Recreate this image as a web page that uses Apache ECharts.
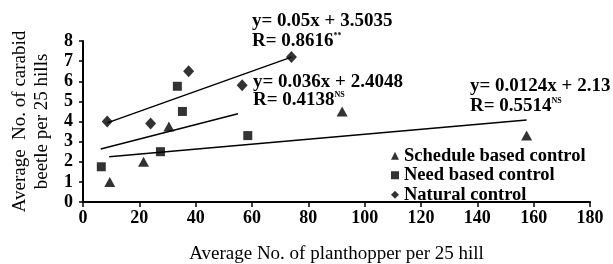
<!DOCTYPE html>
<html>
<head>
<meta charset="utf-8">
<script src="https://cdn.jsdelivr.net/npm/echarts@6/dist/echarts.min.js"></script>
<style>
    html, body { margin: 0; padding: 0; background: #fff; }
    #chart { width: 613px; height: 264px; }
</style>
</head>
<body>
<div id="chart"></div>
<script>
    // points: [planthopper, carabid beetle]
    let schedulePts = [[9.5, 1.0], [21.5, 2.0], [30.5, 3.75], [92, 4.5], [157.5, 3.3]];
    let needPts = [[6.5, 1.75], [27.5, 2.5], [33.5, 5.75], [35.3, 4.5], [58.5, 3.3]];
    let naturalPts = [[8.6, 4.0], [24, 3.9], [37.5, 6.5], [56.5, 5.8], [74, 7.2]];

    // trend line ends, as drawn
    let scheduleFit = [[9.3, 2.25], [157.5, 4.08]];
    let needFit = [[6.3, 2.63], [55, 4.39]];
    let naturalFit = [[8.6, 3.93], [74, 7.2]];

    let legendNames = ['Schedule based control', 'Need based control', 'Natural control'];
    let xTicks = [0, 180, 20];
    let yTicks = [0, 8, 1];

    let FONT = '"Liberation Serif", "Times New Roman", serif';

    let CHART = echarts.init(document.getElementById('chart'));

    function fitLine(data) {
        return {
            type: 'line',
            data: data,
            showSymbol: false,
            silent: true,
            lineStyle: { color: '#000', width: 1.5 },
            z: 1
        };
    }

    function note(x, y, text) {
        return {
            type: 'text',
            left: x,
            top: y,
            style: {
                text: text,
                font: 'bold 19px ' + FONT,
                fill: '#000',
                rich: {
                    s: { fontSize: 8, fontWeight: 'bold', fontFamily: FONT, verticalAlign: 'top', padding: [0, 0, 9, 0] }
                }
            }
        };
    }

    CHART.setOption({
        animation: false,
        grid: { left: 83, right: 23, top: 41, bottom: 62, containLabel: false, outerBoundsMode: 'none' },
        xAxis: {
            type: 'value',
            min: xTicks[0], max: xTicks[1], interval: xTicks[2],
            name: 'Average No. of planthopper per 25 hill',
            nameLocation: 'middle',
            nameGap: 43,
            nameTextStyle: { fontFamily: FONT, fontSize: 19, color: '#000' },
            splitLine: { show: false },
            axisLine: { lineStyle: { color: '#000', width: 2 } },
            axisTick: { length: 5, lineStyle: { color: '#000', width: 1.5 } },
            axisLabel: { fontFamily: FONT, fontWeight: 'bold', fontSize: 18, color: '#000', margin: 7 }
        },
        yAxis: {
            type: 'value',
            min: yTicks[0], max: yTicks[1], interval: yTicks[2],
            name: 'Average  No. of carabid\nbeetle per 25 hills',
            nameLocation: 'middle',
            nameGap: 25,
            nameTextStyle: { fontFamily: FONT, fontSize: 19, color: '#000', lineHeight: 22 },
            splitLine: { show: false },
            axisLine: { lineStyle: { color: '#000', width: 2 } },
            axisTick: { length: 4, lineStyle: { color: '#000', width: 1.5 } },
            axisLabel: { fontFamily: FONT, fontWeight: 'bold', fontSize: 18, color: '#000', margin: 10 }
        },
        legend: {
            orient: 'vertical',
            left: 391,
            top: 146,
            padding: 0,
            itemWidth: 8,
            itemHeight: 8,
            itemGap: 0,
            selectedMode: false,
            textStyle: { fontFamily: FONT, fontWeight: 'bold', fontSize: 18.5, color: '#000', lineHeight: 19.5 },
            data: [
                { name: legendNames[0], icon: 'triangle' },
                { name: legendNames[1], icon: 'rect' },
                { name: legendNames[2], icon: 'diamond' }
            ]
        },
        graphic: [
            note(252, 12, 'y= 0.05x + 3.5035'),
            note(252, 32, 'R= 0.8616{s|**}'),
            note(253, 73, 'y= 0.036x + 2.4048'),
            note(253, 91, 'R= 0.4138{s|NS}'),
            note(470, 77, 'y= 0.0124x + 2.13'),
            note(470, 97, 'R= 0.5514{s|NS}')
        ],
        series: [
            {
                name: legendNames[0], type: 'scatter', symbol: 'triangle', symbolSize: [11, 10],
                itemStyle: { color: '#000' }, data: schedulePts, z: 3
            },
            {
                name: legendNames[1], type: 'scatter', symbol: 'rect', symbolSize: 9,
                itemStyle: { color: '#000' }, data: needPts, z: 3
            },
            {
                name: legendNames[2], type: 'scatter', symbol: 'diamond', symbolSize: [11, 12],
                itemStyle: { color: '#000' }, data: naturalPts, z: 3
            },
            fitLine(scheduleFit),
            fitLine(needFit),
            fitLine(naturalFit)
        ]
    });
</script>
</body>
</html>
